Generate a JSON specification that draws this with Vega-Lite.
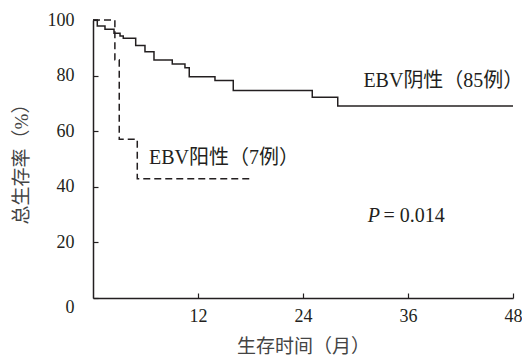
{
  "$schema": "https://vega.github.io/schema/vega-lite/v6.json",
  "width": 420,
  "height": 278,
  "autosize": {"type": "none"},
  "padding": {"left": 93, "top": 20, "right": 9, "bottom": 59},
  "background": "white",
  "config": {
    "view": {"stroke": null},
    "font": "Liberation Serif",
    "axis": {
      "domainColor": "#231f20",
      "domainWidth": 1.5,
      "tickColor": "#231f20",
      "tickWidth": 1.2,
      "tickSize": -5,
      "grid": false,
      "labelFont": "Liberation Serif",
      "labelFontSize": 18,
      "labelColor": "#231f20",
      "titleFont": "Liberation Serif, Noto Sans CJK SC",
      "titleFontSize": 19,
      "titleFontWeight": "normal",
      "titleColor": "#444444"
    }
  },
  "layer": [
    {
      "data": {
        "values": [
          {"t": 0, "s": 100, "g": "neg"},
          {"t": 0.49, "s": 97.8, "g": "neg"},
          {"t": 1.37, "s": 96.7, "g": "neg"},
          {"t": 2.4, "s": 95.2, "g": "neg"},
          {"t": 3.09, "s": 94.2, "g": "neg"},
          {"t": 3.46, "s": 93.4, "g": "neg"},
          {"t": 4.88, "s": 90.8, "g": "neg"},
          {"t": 5.94, "s": 88.6, "g": "neg"},
          {"t": 6.97, "s": 85.6, "g": "neg"},
          {"t": 9.06, "s": 84.2, "g": "neg"},
          {"t": 10.51, "s": 82.8, "g": "neg"},
          {"t": 11.0, "s": 79.6, "g": "neg"},
          {"t": 13.94, "s": 78.2, "g": "neg"},
          {"t": 16.03, "s": 74.6, "g": "neg"},
          {"t": 25.06, "s": 72.2, "g": "neg"},
          {"t": 27.97, "s": 69.1, "g": "neg"},
          {"t": 48, "s": 69.1, "g": "neg"},
          {"t": 0, "s": 100, "g": "pos"},
          {"t": 2.5, "s": 85.7, "g": "pos"},
          {"t": 3.0, "s": 57.1, "g": "pos"},
          {"t": 5.06, "s": 42.9, "g": "pos"},
          {"t": 18.0, "s": 42.9, "g": "pos"}
        ]
      },
      "mark": {"type": "line", "interpolate": "step-after", "strokeWidth": 1.5},
      "encoding": {
        "x": {
          "field": "t", "type": "quantitative",
          "scale": {"domain": [0, 48], "nice": false, "zero": true},
          "axis": {"values": [12, 24, 36, 48], "title": "生存时间（月）", "labelPadding": 14, "titlePadding": 12, "labelFlush": false}
        },
        "y": {
          "field": "s", "type": "quantitative",
          "scale": {"domain": [0, 100], "nice": false},
          "axis": {
            "values": [0, 20, 40, 60, 80, 100],
            "title": "总生存率（%）",
            "labelPadding": 24,
            "titlePadding": 16,
            "labelBaseline": {"expr": "datum.value === 0 ? 'top' : 'middle'"}
          }
        },
        "color": {"field": "g", "type": "nominal", "scale": {"domain": ["neg", "pos"], "range": ["#231f20", "#231f20"]}, "legend": null},
        "strokeDash": {"field": "g", "type": "nominal", "scale": {"domain": ["neg", "pos"], "range": [[1, 0], [7, 4]]}, "legend": null}
      }
    },
    {
      "data": {
        "values": [
          {"t": 30.9, "s": 78.2, "label": "EBV阴性（85例）"},
          {"t": 6.4, "s": 50.5, "label": "EBV阳性（7例）"},
          {"t": 33.2, "s": 29.5, "label": "= 0.014"}
        ]
      },
      "mark": {"type": "text", "align": "left", "baseline": "middle", "fontSize": 20, "font": "Liberation Serif, Noto Sans CJK SC", "color": "#231f20"},
      "encoding": {
        "x": {"field": "t", "type": "quantitative"},
        "y": {"field": "s", "type": "quantitative"},
        "text": {"field": "label"}
      }
    },
    {
      "data": {
        "values": [
          {"t": 31.4, "s": 29.5, "label": "P"}
        ]
      },
      "mark": {"type": "text", "align": "left", "baseline": "middle", "fontSize": 20, "fontStyle": "italic", "font": "Liberation Serif", "color": "#231f20"},
      "encoding": {
        "x": {"field": "t", "type": "quantitative"},
        "y": {"field": "s", "type": "quantitative"},
        "text": {"field": "label"}
      }
    }
  ]
}
